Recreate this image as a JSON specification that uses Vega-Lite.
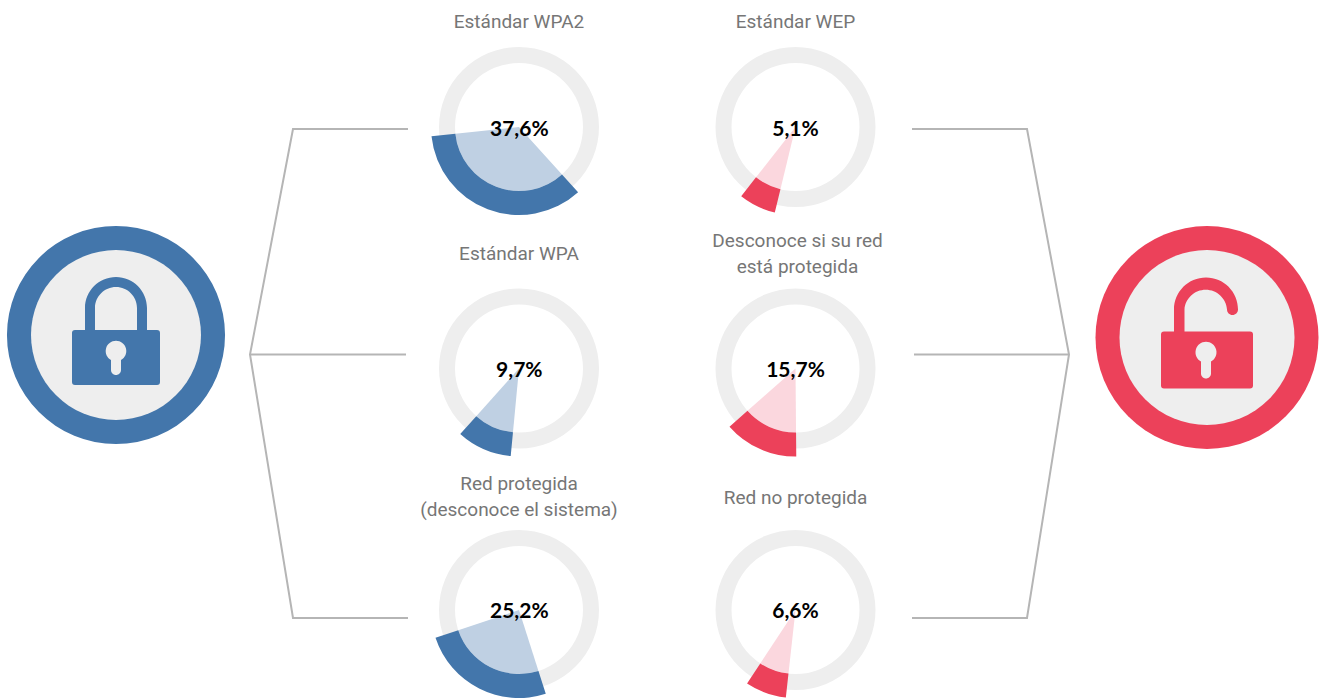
{
"$schema":"https://vega.github.io/schema/vega-lite/v6.json",
"width":1327,"height":699,"padding":0,
"autosize":{"type":"fit","contains":"padding"},
"background":"#ffffff",
"config":{"view":{"stroke":null}},
"datasets":{
"redes":[
{"nombre":"Estándar WPA2","titulo":["Estándar WPA2"],"columna":"izquierda","fila":1,"grupo":"Protegida","valor":37.6,"rotulo":"37,6%","inicio":137.8,"fin":263.9},
{"nombre":"Estándar WPA","titulo":["Estándar WPA"],"columna":"izquierda","fila":2,"grupo":"Protegida","valor":9.7,"rotulo":"9,7%","inicio":185.4,"fin":221.9},
{"nombre":"Red protegida","titulo":["Red protegida","(desconoce el sistema)"],"columna":"izquierda","fila":3,"grupo":"Protegida","valor":25.2,"rotulo":"25,2%","inicio":162.3,"fin":251.6},
{"nombre":"Estándar WEP","titulo":["Estándar WEP"],"columna":"derecha","fila":1,"grupo":"Sin proteger","valor":5.1,"rotulo":"5,1%","inicio":193.6,"fin":218.1},
{"nombre":"Desconoce","titulo":["Desconoce si su red","está protegida"],"columna":"derecha","fila":2,"grupo":"Sin proteger","valor":15.7,"rotulo":"15,7%","inicio":179.5,"fin":228.6},
{"nombre":"Red no protegida","titulo":["Red no protegida"],"columna":"derecha","fila":3,"grupo":"Sin proteger","valor":6.6,"rotulo":"6,6%","inicio":186.3,"fin":213.4}
],
"grupos":[{"grupo":"Protegida"},{"grupo":"Sin proteger"}],
"conectores":[
{"tramo":"i1","orden":1,"x":408,"y":129},{"tramo":"i1","orden":2,"x":293,"y":129},{"tramo":"i1","orden":3,"x":250,"y":354.5},{"tramo":"i1","orden":4,"x":293,"y":618},{"tramo":"i1","orden":5,"x":408,"y":618},
{"tramo":"i2","orden":1,"x":250,"y":354.5},{"tramo":"i2","orden":2,"x":406,"y":354.5},
{"tramo":"d1","orden":1,"x":912,"y":129},{"tramo":"d1","orden":2,"x":1027,"y":129},{"tramo":"d1","orden":3,"x":1069,"y":354.5},{"tramo":"d1","orden":4,"x":1027,"y":618},{"tramo":"d1","orden":5,"x":912,"y":618},
{"tramo":"d2","orden":1,"x":914,"y":354.5},{"tramo":"d2","orden":2,"x":1069,"y":354.5}
]},
"layer":[
{"data":{"name":"conectores"},"mark":{"type":"line","color":"#b5b5b5","strokeWidth":2,"interpolate":"linear"},
 "encoding":{"x":{"field":"x","type":"quantitative","axis":null,"scale":{"domain":[0,1327],"range":[0,1327],"nice":false,"zero":false}},
 "y":{"field":"y","type":"quantitative","axis":null,"scale":{"domain":[0,699],"range":[0,699],"nice":false,"zero":false}},
 "detail":{"field":"tramo"},"order":{"field":"orden"}}},

{"data":{"name":"grupos"},"transform":[{"filter":"datum.grupo==='Protegida'"}],"mark":{"type":"arc","radius":109,"radius2":0,"theta":0,"theta2":6.2832,"color":"#4376ab"},
 "encoding":{"x":{"field":"grupo","type":"nominal","axis":null,"scale":{"type":"point","domain":["Protegida","Sin proteger"],"range":[116,1207],"padding":0}},
 "y":{"field":"grupo","type":"nominal","axis":null,"scale":{"type":"point","domain":["Protegida","Sin proteger"],"range":[335,337.5],"padding":0}}}},
{"data":{"name":"grupos"},"transform":[{"filter":"datum.grupo==='Protegida'"}],"mark":{"type":"arc","radius":85,"radius2":0,"theta":0,"theta2":6.2832,"color":"#eeeeee"},
 "encoding":{"x":{"field":"grupo","type":"nominal","axis":null,"scale":{"type":"point","domain":["Protegida","Sin proteger"],"range":[116,1207],"padding":0}},
 "y":{"field":"grupo","type":"nominal","axis":null,"scale":{"type":"point","domain":["Protegida","Sin proteger"],"range":[335,337.5],"padding":0}}}},
{"data":{"name":"grupos"},"transform":[{"filter":"datum.grupo==='Sin proteger'"}],"mark":{"type":"arc","radius":111.5,"radius2":0,"theta":0,"theta2":6.2832,"color":"#ec415a"},
 "encoding":{"x":{"field":"grupo","type":"nominal","axis":null,"scale":{"type":"point","domain":["Protegida","Sin proteger"],"range":[116,1207],"padding":0}},
 "y":{"field":"grupo","type":"nominal","axis":null,"scale":{"type":"point","domain":["Protegida","Sin proteger"],"range":[335,337.5],"padding":0}}}},
{"data":{"name":"grupos"},"transform":[{"filter":"datum.grupo==='Sin proteger'"}],"mark":{"type":"arc","radius":87.5,"radius2":0,"theta":0,"theta2":6.2832,"color":"#eeeeee"},
 "encoding":{"x":{"field":"grupo","type":"nominal","axis":null,"scale":{"type":"point","domain":["Protegida","Sin proteger"],"range":[116,1207],"padding":0}},
 "y":{"field":"grupo","type":"nominal","axis":null,"scale":{"type":"point","domain":["Protegida","Sin proteger"],"range":[335,337.5],"padding":0}}}},
{"data":{"name":"grupos"},"transform":[{"filter":"datum.grupo==='Protegida'"}],"mark":{"type":"point","filled":true,"opacity":1,"size":4,"color":"#4376ab","shape":"M-41,-5H41Q44,-5 44,-2V47Q44,50 41,50H-41Q-44,50 -44,47V-2Q-44,-5 -41,-5ZM-5,25V35A5,5 0 0 0 5,35V25A10.3,10.3 0 1 0 -5,25ZM-31,-5V-27A31,31 0 0 1 31,-27V-5H21V-27A21,21 0 0 0 -21,-27V-5Z"},
 "encoding":{"x":{"field":"grupo","type":"nominal","axis":null,"scale":{"type":"point","domain":["Protegida","Sin proteger"],"range":[116,1207],"padding":0}},
 "y":{"field":"grupo","type":"nominal","axis":null,"scale":{"type":"point","domain":["Protegida","Sin proteger"],"range":[335,337.5],"padding":0}}}},
{"data":{"name":"grupos"},"transform":[{"filter":"datum.grupo==='Sin proteger'"}],"mark":{"type":"point","filled":true,"opacity":1,"size":4,"color":"#ec415a","shape":"M-43,-6H43Q46,-6 46,-3V48Q46,51 43,51H-43Q-46,51 -46,48V-3Q-46,-6 -43,-6ZM-6,24V36A5,5 0 0 0 4,36V24A10.5,10.5 0 1 0 -6,24ZM-33,-6V-28A32,32 0 0 1 31,-28A5.5,5.5 0 0 1 20,-28A21.3,21.3 0 0 0 -22.5,-28V-6Z"},
 "encoding":{"x":{"field":"grupo","type":"nominal","axis":null,"scale":{"type":"point","domain":["Protegida","Sin proteger"],"range":[116,1207],"padding":0}},
 "y":{"field":"grupo","type":"nominal","axis":null,"scale":{"type":"point","domain":["Protegida","Sin proteger"],"range":[335,337.5],"padding":0}}}},

{"data":{"name":"redes"},"mark":{"type":"arc","radius":80,"radius2":64,"theta":0,"theta2":6.2832,"color":"#eeeeee"},
 "encoding":{"x":{"field":"columna","type":"nominal","axis":null,"scale":{"type":"point","domain":["izquierda","derecha"],"range":[519,795.5],"padding":0}},
 "y":{"field":"fila","type":"ordinal","axis":null,"scale":{"type":"point","domain":[1,2,3],"range":[127,610],"padding":0}}}},
{"data":{"name":"redes"},"mark":{"type":"arc","radius":64,"radius2":0},
 "encoding":{"x":{"field":"columna","type":"nominal","axis":null,"scale":{"type":"point","domain":["izquierda","derecha"],"range":[519,795.5],"padding":0}},
 "y":{"field":"fila","type":"ordinal","axis":null,"scale":{"type":"point","domain":[1,2,3],"range":[127,610],"padding":0}},
 "theta":{"field":"inicio","type":"quantitative","stack":false,"scale":{"domain":[0,360],"range":[0,6.28319]}},"theta2":{"field":"fin"},
 "color":{"field":"grupo","type":"nominal","legend":null,"scale":{"domain":["Protegida","Sin proteger"],"range":["#bfd0e3","#fbd7de"]}}}},
{"data":{"name":"redes"},"mark":{"type":"arc","radius":88,"radius2":64},
 "encoding":{"x":{"field":"columna","type":"nominal","axis":null,"scale":{"type":"point","domain":["izquierda","derecha"],"range":[519,795.5],"padding":0}},
 "y":{"field":"fila","type":"ordinal","axis":null,"scale":{"type":"point","domain":[1,2,3],"range":[127,610],"padding":0}},
 "theta":{"field":"inicio","type":"quantitative","stack":false,"scale":{"domain":[0,360],"range":[0,6.28319]}},"theta2":{"field":"fin"},
 "color":{"field":"grupo","type":"nominal","legend":null,"scale":{"domain":["Protegida","Sin proteger"],"range":["#4376ab","#ec415a"]}}}},
{"data":{"name":"redes"},"mark":{"type":"text","font":"Lato","fontWeight":"bold","fontSize":21,"color":"#000000","align":"center","baseline":"alphabetic","dy":8},
 "encoding":{"x":{"field":"columna","type":"nominal","axis":null,"scale":{"type":"point","domain":["izquierda","derecha"],"range":[519.3,795.5],"padding":0}},
 "y":{"field":"fila","type":"ordinal","axis":null,"scale":{"type":"point","domain":[1,2,3],"range":[127.5,610],"padding":0}},
 "text":{"field":"rotulo"}}},

{"data":{"name":"redes"},"transform":[{"filter":{"field":"fila","equal":1}}],"mark":{"type":"text","font":"Roboto","fontSize":19,"color":"#767676","align":"center","baseline":"alphabetic","lineHeight":26,"dy":-99.5},
 "encoding":{"x":{"field":"columna","type":"nominal","axis":null,"scale":{"type":"point","domain":["izquierda","derecha"],"range":[519,795.5],"padding":0}},
 "y":{"field":"fila","type":"ordinal","axis":null,"scale":{"type":"point","domain":[1,2,3],"range":[127,610],"padding":0}},
 "text":{"field":"titulo"}}},
{"data":{"name":"redes"},"transform":[{"filter":{"field":"nombre","equal":"Estándar WPA"}}],"mark":{"type":"text","font":"Roboto","fontSize":19,"color":"#767676","align":"center","baseline":"alphabetic","lineHeight":26,"dy":-109},
 "encoding":{"x":{"field":"columna","type":"nominal","axis":null,"scale":{"type":"point","domain":["izquierda","derecha"],"range":[519,795.5],"padding":0}},
 "y":{"field":"fila","type":"ordinal","axis":null,"scale":{"type":"point","domain":[1,2,3],"range":[127,610],"padding":0}},
 "text":{"field":"titulo"}}},
{"data":{"name":"redes"},"transform":[{"filter":{"field":"nombre","equal":"Desconoce"}}],"mark":{"type":"text","font":"Roboto","fontSize":19,"color":"#767676","align":"center","baseline":"alphabetic","lineHeight":26,"dy":-122},
 "encoding":{"x":{"field":"columna","type":"nominal","axis":null,"scale":{"type":"point","domain":["izquierda","derecha"],"range":[521,797.5],"padding":0}},
 "y":{"field":"fila","type":"ordinal","axis":null,"scale":{"type":"point","domain":[1,2,3],"range":[127,610],"padding":0}},
 "text":{"field":"titulo"}}},
{"data":{"name":"redes"},"transform":[{"filter":{"field":"nombre","equal":"Red protegida"}}],"mark":{"type":"text","font":"Roboto","fontSize":19,"color":"#767676","align":"center","baseline":"alphabetic","lineHeight":26,"dy":-120},
 "encoding":{"x":{"field":"columna","type":"nominal","axis":null,"scale":{"type":"point","domain":["izquierda","derecha"],"range":[519,795.5],"padding":0}},
 "y":{"field":"fila","type":"ordinal","axis":null,"scale":{"type":"point","domain":[1,2,3],"range":[127,610],"padding":0}},
 "text":{"field":"titulo"}}},
{"data":{"name":"redes"},"transform":[{"filter":{"field":"nombre","equal":"Red no protegida"}}],"mark":{"type":"text","font":"Roboto","fontSize":19,"color":"#767676","align":"center","baseline":"alphabetic","lineHeight":26,"dy":-106.5},
 "encoding":{"x":{"field":"columna","type":"nominal","axis":null,"scale":{"type":"point","domain":["izquierda","derecha"],"range":[519,795.5],"padding":0}},
 "y":{"field":"fila","type":"ordinal","axis":null,"scale":{"type":"point","domain":[1,2,3],"range":[127,610],"padding":0}},
 "text":{"field":"titulo"}}}
],
"resolve":{"scale":{"x":"independent","y":"independent","color":"independent","theta":"shared"}}
}
